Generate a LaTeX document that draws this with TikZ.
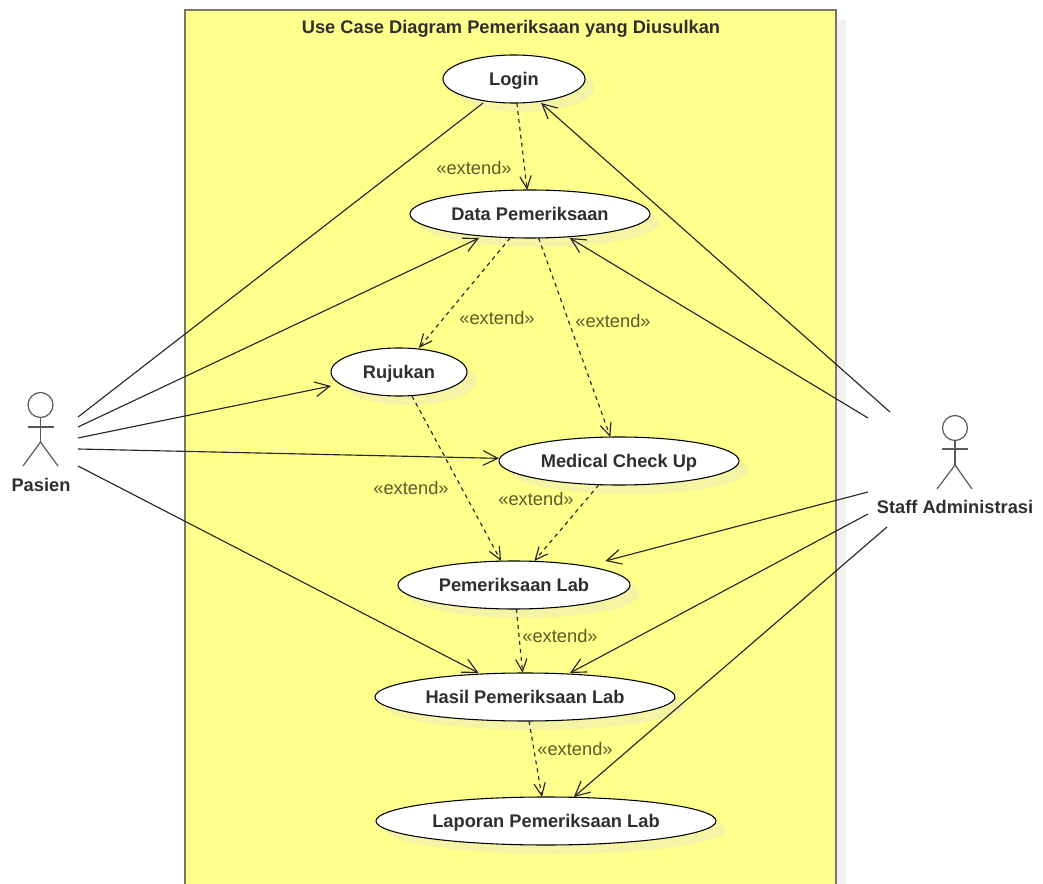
\documentclass[tikz,border=0pt]{standalone}
\usepackage{fontspec}
\setmainfont{Liberation Sans}
\usetikzlibrary{arrows.meta,shapes.geometric,shadows}
\definecolor{framefill}{HTML}{FFFF8C}
\definecolor{frameline}{HTML}{77776A}
\definecolor{frameshade}{HTML}{F1F1F1}
\definecolor{caseshade}{HTML}{F4F4A4}
\definecolor{labelcol}{HTML}{5C5C28}
\definecolor{textcol}{HTML}{2F2F2F}
\tikzset{
	usecase/.style={ellipse,draw=black,line width=.8pt,fill=white,inner sep=0pt,outer sep=0pt,minimum height=48*0.75pt,text height=10pt,text depth=0pt,font=\fontsize{13.7}{15}\selectfont\bfseries,text=textcol,
		copy shadow={shadow xshift=9.5*0.75pt,shadow yshift=-9*0.75pt,draw=none,fill=caseshade}},
	casebox/.style={rectangle,inner sep=0pt,outer sep=0pt,minimum height=48*0.75pt},
	actorname/.style={font=\fontsize{13.7}{15}\selectfont\bfseries,text=textcol},
	actorline/.style={draw=black!65,line width=.9pt},
	extendlabel/.style={font=\fontsize{13.7}{15}\selectfont,text=labelcol},
	assoc/.style={draw=black!85,line width=.85pt},
	assocarrow/.style={assoc,-{Straight Barb[length=11pt,width=11pt]}},
	extendarrow/.style={assoc,dashed,-{Straight Barb[length=9.5pt,width=8.5pt]}}
}
\begin{document}
\begin{tikzpicture}[x=0.75pt,y=-0.75pt]
	\useasboundingbox (0,0) rectangle (1043,884);

	\fill[frameshade] (836,20) rectangle (846,884);
	\fill[framefill] (185,10) rectangle (836,884);
	\draw[frameline,line width=1.2pt] (185,884) -- (185,10) -- (836,10) -- (836,884);
	\node[actorname] (title) at (511,29) {Use Case Diagram Pemeriksaan yang Diusulkan};

	\node[usecase,minimum width=142*0.75pt] (login) at (514,79) {Login};
	\node[usecase,minimum width=240*0.75pt] (data) at (530,214) {Data Pemeriksaan};
	\node[usecase,minimum width=136*0.75pt] (rujukan) at (399,372) {Rujukan};
	\node[usecase,minimum width=240*0.75pt] (medical) at (619,461) {Medical Check Up};
	\node[usecase,minimum width=232*0.75pt] (lab) at (514,585) {Pemeriksaan Lab};
	\node[usecase,minimum width=300*0.75pt] (hasil) at (525,697) {Hasil Pemeriksaan Lab};
	\node[usecase,minimum width=340*0.75pt] (laporan) at (546,821) {Laporan Pemeriksaan Lab};

	% connectors stop at these boxes
	\node[casebox,minimum width=142*0.75pt] (loginbox) at (514,79) {};
	\node[casebox,minimum width=240*0.75pt] (databox) at (530,214) {};
	\node[casebox,minimum width=136*0.75pt] (rujukanbox) at (399,372) {};
	\node[casebox,minimum width=240*0.75pt] (medicalbox) at (619,461) {};
	\node[casebox,minimum width=232*0.75pt] (labbox) at (514,585) {};
	\node[casebox,minimum width=300*0.75pt] (hasilbox) at (525,697) {};
	\node[casebox,minimum width=340*0.75pt] (laporanbox) at (546,821) {};

	\node[extendlabel] (extA) at (474,168) {«extend»};
	\node[extendlabel] (extB) at (497,318) {«extend»};
	\node[extendlabel] (extC) at (613,321) {«extend»};
	\node[extendlabel] (extD) at (411,488) {«extend»};
	\node[extendlabel] (extE) at (536,499) {«extend»};
	\node[extendlabel] (extF) at (560,636) {«extend»};
	\node[extendlabel] (extG) at (575,749) {«extend»};

	\draw[extendarrow] (loginbox) -- (databox);
	\draw[extendarrow] (databox) -- (rujukanbox);
	\draw[extendarrow] (databox) -- (medicalbox);
	\draw[extendarrow] (rujukanbox) -- (labbox);
	\draw[extendarrow] (medicalbox) -- (labbox);
	\draw[extendarrow] (labbox) -- (hasilbox);
	\draw[extendarrow] (hasilbox) -- (laporanbox);

	% pasien
	\node[circle,actorline,inner sep=0pt,minimum size=25*0.75pt] (pasienhead) at (40.5,405) {};
	\coordinate (pasienhip) at (40.5,442);
	\coordinate (pasienarmL) at (28,427);
	\coordinate (pasienarmR) at (54,427);
	\coordinate (pasienlegL) at (23,466);
	\coordinate (pasienlegR) at (58,466);
	\draw[actorline] (pasienhead) -- (pasienhip);
	\draw[actorline] (pasienarmL) -- (pasienarmR);
	\draw[actorline] (pasienlegL) -- (pasienhip) -- (pasienlegR);
	\node[actorname] (pasien) at (41,485) {Pasien};

	\coordinate (pasienA) at (78,417);
	\coordinate (pasienB) at (78,427);
	\coordinate (pasienC) at (78,438);
	\coordinate (pasienD) at (78,449);
	\coordinate (pasienE) at (78,466);
	\draw[assoc] (pasienA) -- (loginbox);
	\draw[assocarrow] (pasienB) -- (databox);
	\draw[assocarrow] (pasienC) -- (rujukanbox);
	\draw[assocarrow] (pasienD) -- (medicalbox);
	\draw[assocarrow] (pasienE) -- (hasilbox);

	% staff
	\node[circle,actorline,inner sep=0pt,minimum size=25*0.75pt] (staffhead) at (955,428) {};
	\coordinate (staffhip) at (955,465);
	\coordinate (staffarmL) at (942,449);
	\coordinate (staffarmR) at (968,449);
	\coordinate (stafflegL) at (937,489);
	\coordinate (stafflegR) at (972,489);
	\draw[actorline] (staffhead) -- (staffhip);
	\draw[actorline] (staffarmL) -- (staffarmR);
	\draw[actorline] (stafflegL) -- (staffhip) -- (stafflegR);
	\node[actorname] (staff) at (955,507) {Staff Administrasi};

	\coordinate (staffA) at (890,412);
	\coordinate (staffB) at (868,418);
	\coordinate (staffC) at (868,492);
	\coordinate (staffD) at (868,514);
	\coordinate (staffE) at (887,527);
	\draw[assocarrow] (staffA) -- (loginbox);
	\draw[assocarrow] (staffB) -- (databox);
	\draw[assocarrow] (staffC) -- (labbox);
	\draw[assocarrow] (staffD) -- (hasilbox);
	\draw[assocarrow] (staffE) -- (laporanbox);
\end{tikzpicture}
\end{document}
